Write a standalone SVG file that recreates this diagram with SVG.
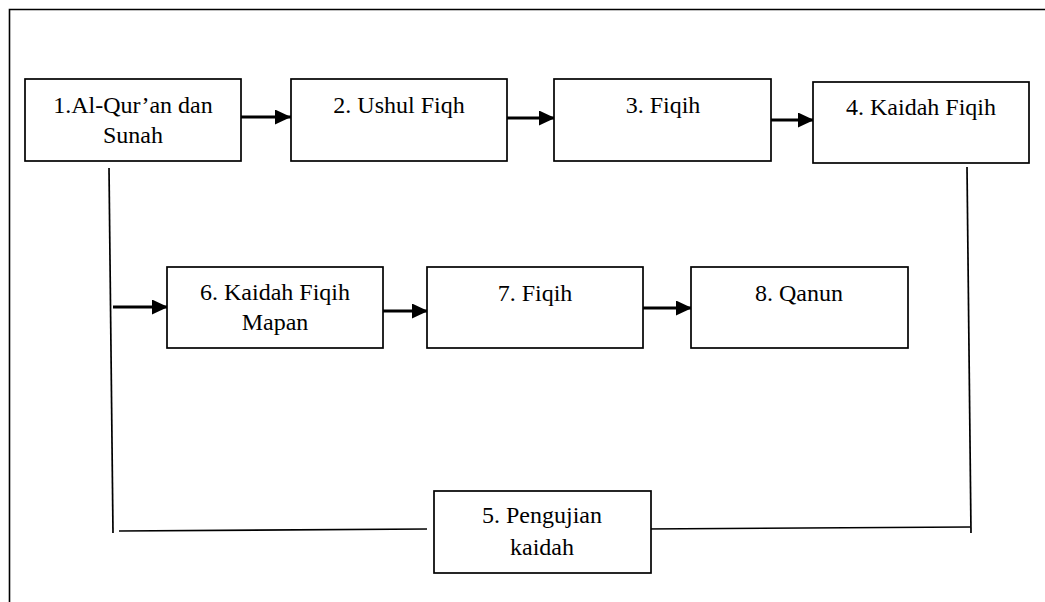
<svg xmlns="http://www.w3.org/2000/svg" width="1045" height="602" viewBox="0 0 1045 602">
<style>
.box{fill:#fff;stroke:#000;stroke-width:1.7}
.arr{stroke:#000;stroke-width:2.8;fill:none}
.ln{stroke:#000;stroke-width:1.7;fill:none}
</style>
<defs>
<marker id="ah" markerUnits="userSpaceOnUse" viewBox="0 0 16 15" refX="16" refY="7.5" markerWidth="16" markerHeight="15" orient="auto">
<path d="M0,0 L16,7.5 L0,15 z" fill="#000"/>
</marker>
</defs>
<rect width="1045" height="602" fill="#fff"/>
<path d="M9.5,602 V9.5 H1045" fill="none" stroke="#000" stroke-width="1.6"/>
<g id="connectors">
<line class="arr" x1="237" y1="117" x2="291" y2="117" marker-end="url(#ah)"/>
<line class="arr" x1="503" y1="118" x2="555" y2="118" marker-end="url(#ah)"/>
<line class="arr" x1="766" y1="120" x2="814" y2="120" marker-end="url(#ah)"/>
<line class="arr" x1="113" y1="307" x2="168" y2="307" marker-end="url(#ah)"/>
<line class="arr" x1="377" y1="311" x2="428" y2="311" marker-end="url(#ah)"/>
<line class="arr" x1="637" y1="308" x2="692" y2="308" marker-end="url(#ah)"/>
<line class="ln" x1="109" y1="168" x2="113" y2="533"/>
<line class="ln" x1="967" y1="167" x2="971" y2="533"/>
<line class="ln" x1="119" y1="531" x2="427" y2="529"/>
<line class="ln" x1="643" y1="529" x2="970" y2="527"/>
</g>
<g id="n1"><rect class="box" x="25" y="79" width="216" height="82"/><text font-family="Liberation Serif" font-size="24" text-anchor="middle" x="133" y="113">1.Al-Qur’an dan</text><text font-family="Liberation Serif" font-size="24" text-anchor="middle" x="133" y="143">Sunah</text></g>
<g id="n2"><rect class="box" x="291" y="79" width="216" height="82"/><text font-family="Liberation Serif" font-size="24" text-anchor="middle" x="399" y="113">2. Ushul Fiqh</text></g>
<g id="n3"><rect class="box" x="554" y="79" width="217" height="82"/><text font-family="Liberation Serif" font-size="24" text-anchor="middle" x="663" y="113">3. Fiqih</text></g>
<g id="n4"><rect class="box" x="813" y="82" width="216" height="81"/><text font-family="Liberation Serif" font-size="24" text-anchor="middle" x="921" y="115">4. Kaidah Fiqih</text></g>
<g id="n6"><rect class="box" x="167" y="267" width="216" height="81"/><text font-family="Liberation Serif" font-size="24" text-anchor="middle" x="275" y="300">6. Kaidah Fiqih</text><text font-family="Liberation Serif" font-size="24" text-anchor="middle" x="275" y="330">Mapan</text></g>
<g id="n7"><rect class="box" x="427" y="267" width="216" height="81"/><text font-family="Liberation Serif" font-size="24" text-anchor="middle" x="535" y="301">7. Fiqih</text></g>
<g id="n8"><rect class="box" x="691" y="267" width="217" height="81"/><text font-family="Liberation Serif" font-size="24" text-anchor="middle" x="799" y="301">8. Qanun</text></g>
<g id="n5"><rect class="box" x="434" y="491" width="217" height="82"/><text font-family="Liberation Serif" font-size="24" text-anchor="middle" x="542" y="523">5. Pengujian</text><text font-family="Liberation Serif" font-size="24" text-anchor="middle" x="542" y="555">kaidah</text></g>
</svg>
